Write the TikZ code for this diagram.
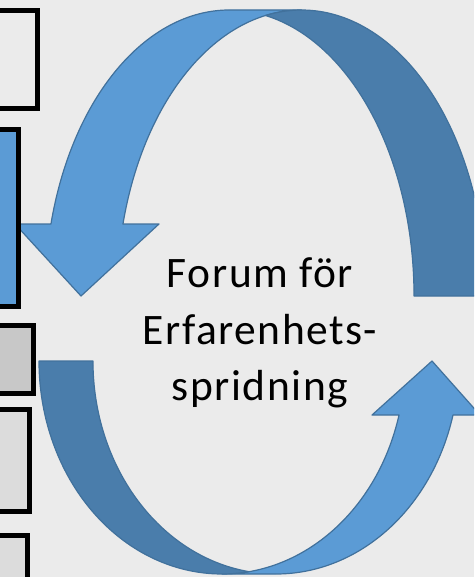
\documentclass[tikz,border=0pt]{standalone}
\usepackage{fontspec}
\setmainfont{Carlito}
\definecolor{PPBlue}{HTML}{5B9BD5}
\definecolor{PPShade}{HTML}{4A7DAB}
\definecolor{PPLine}{HTML}{41719C}
\definecolor{SlideGray}{HTML}{EBEBEB}
\definecolor{BoxDark}{HTML}{C8C8C8}
\definecolor{BoxLight}{HTML}{DCDCDC}
\tikzset{
    box/.style = {draw=black, line width=5pt},
    front/.style = {fill=PPBlue, draw=PPLine, line width=1.2pt, line join=round},
    back/.style = {fill=PPShade, draw=PPLine, line width=1.2pt, line join=round},
    upper/.style = {x radius=184.5, y radius=286},
    lower/.style = {x radius=183, y radius=213}
}

\begin{document}
\begin{tikzpicture}[x=1pt, y=-1pt]
        \useasboundingbox (0,0) rectangle (474,577);
        \clip (0,0) rectangle (474,577);
        \fill[SlideGray] (0,0) rectangle (474,577);
        % upper curved arrow, head on the left
        \draw[front] (81,296) -- (15,224) -- (50.94,224) arc[upper, start angle=194.58, end angle=270]
            -- (301.5,10) arc[upper, start angle=270, end angle=194.58] -- (159,224) -- cycle;
        \draw[back] (486,296) arc[upper, start angle=360, end angle=258.75]
            arc[upper, start angle=281.25, end angle=360] -- cycle;
        % lower curved arrow, head on the right
        \draw[front] (432,361) -- (480,415) -- (453,415) arc[lower, start angle=14.69, end angle=90]
            -- (222,574) arc[lower, start angle=90, end angle=14.69] -- (372,415) -- cycle;
        \draw[back] (39,361) arc[lower, start angle=180, end angle=81.52]
            arc[lower, start angle=98.48, end angle=180] -- cycle;
        % boxes cut by the left edge
        \foreach \yt/\yb/\xr/\col in {10.8/108.5/37/SlideGray, 129.2/306.8/18.2/PPBlue,
                325.2/393.3/33.2/BoxDark, 409.8/511.8/29.8/BoxLight, 535.8/600/27.5/BoxLight}{
            \draw[box, fill=\col] (-10,\yt) rectangle (\xr,\yb);
        }
        \node[align=center, font=\fontsize{43.5}{56.5}\selectfont\addfontfeature{LetterSpace=3.5}] (forum) at (260,333)
            {Forum för\\Erfarenhets-\\spridning};
\end{tikzpicture}
\end{document}
